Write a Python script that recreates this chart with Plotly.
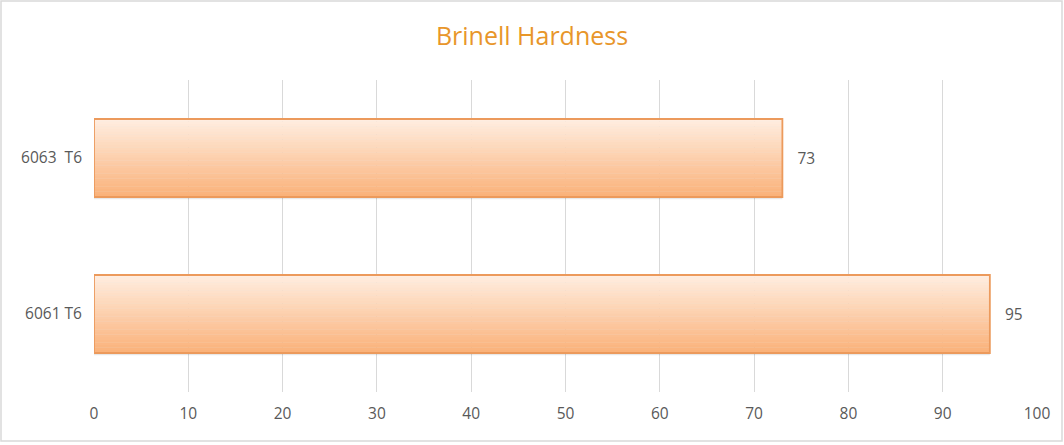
import plotly.graph_objects as go

categories = ["6061 T6", "6063  T6"]
values = [95, 73]
x_ticks = [0, 10, 20, 30, 40, 50, 60, 70, 80, 90, 100]
title_text = "Brinell Hardness"

W, H = 1064, 445
ML, MR, MT, MB = 94, 27, 80, 53
BAR_W = 0.5
N = 30
top_rgb = (255, 237, 224)
bot_rgb = (250, 178, 122)
FONT = "Open Sans"

def lerp(a, b, t):
    return tuple(round(a[i] + (b[i] - a[i]) * t) for i in range(3))

labels = [c.replace(" ", "\u00a0") for c in categories]

fig = go.Figure()

# soft shadow
fig.add_trace(go.Bar(
    y=labels, x=values, orientation="h", width=BAR_W, offset=-BAR_W / 2 - 0.014,
    marker=dict(color="rgba(0,0,0,0.09)", line=dict(width=0)),
    hoverinfo="skip", showlegend=False,
))

# gradient strips
for i in range(N):
    t = i / (N - 1)
    c = lerp(top_rgb, bot_rgb, t)
    fig.add_trace(go.Bar(
        y=labels, x=values, orientation="h",
        width=BAR_W / N + 0.002,
        offset=BAR_W / 2 - (i + 1) * BAR_W / N,
        marker=dict(color=f"rgb{c}", line=dict(width=0)),
        hoverinfo="skip", showlegend=False,
    ))

# outline + labels
fig.add_trace(go.Bar(
    y=labels, x=values, orientation="h", width=BAR_W, offset=-BAR_W / 2,
    marker=dict(color="rgba(0,0,0,0)", line=dict(color="#EC9A5C", width=1.8)),
    text=["\u00a0\u00a0\u00a0" + str(v) for v in values], textposition="outside",
    textfont=dict(color="#595959", size=15.5, family=FONT),
    cliponaxis=False, showlegend=False,
))

fig.update_layout(
    width=W, height=H,
    barmode="overlay",
    margin=dict(l=ML, r=MR, t=MT, b=MB),
    paper_bgcolor="white", plot_bgcolor="white",
    title=dict(text=title_text, x=0.5, xanchor="center", y=0.918, yanchor="middle",
               font=dict(color="#E8962A", size=25, family=FONT)),
    xaxis=dict(range=[0, 100], tickvals=x_ticks, showgrid=True, gridcolor="#D9D9D9",
               gridwidth=1, zeroline=False, showline=False, ticks="",
               tickfont=dict(color="#595959", size=15.5, family=FONT), ticklabelstandoff=10,
               fixedrange=True),
    yaxis=dict(type="category", showgrid=False, zeroline=False, showline=False, ticks="",
               tickfont=dict(color="#595959", size=15.5, family=FONT), ticklabelstandoff=11,
               range=[-0.5, 1.5], fixedrange=True),
    showlegend=False,
)

pw, ph = W - ML - MR, H - MT - MB
fig.add_shape(type="rect", xref="paper", yref="paper",
              x0=-(ML - 1) / pw, x1=1 + (MR - 2) / pw,
              y0=-(MB - 4) / ph, y1=1 + (MT - 1) / ph,
              line=dict(color="#D9D9D9", width=1.5), fillcolor="rgba(0,0,0,0)", layer="below")

fig.write_html("out.html", config={"displayModeBar": False},
               post_script="document.body.style.margin='0';document.body.style.overflow='hidden';")
